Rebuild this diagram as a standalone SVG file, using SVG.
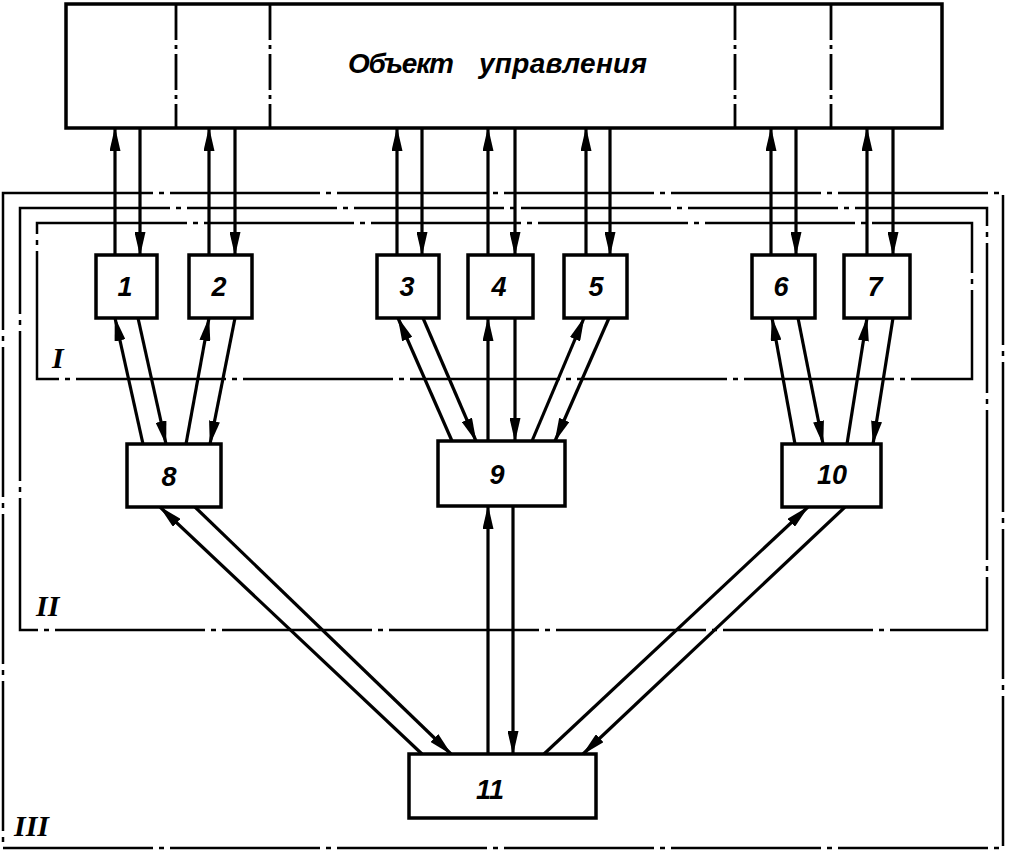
<svg xmlns="http://www.w3.org/2000/svg" width="1010" height="854" viewBox="0 0 1010 854">
<style>
.box{fill:#fff;stroke:#000;stroke-width:3.5}
.bound{fill:none;stroke:#000;stroke-width:2.5;stroke-dasharray:150 6 5 6}
.div{stroke:#000;stroke-width:2.8;stroke-dasharray:36 5 4 5}
.lbl{font-family:"Liberation Sans",Arial,sans-serif;font-style:italic;font-weight:bold;font-size:27px;fill:#000;text-anchor:middle}
.ttl{font-size:28px;text-anchor:start}
.rom{font-family:"Liberation Serif","Times New Roman",serif;font-style:italic;font-weight:bold;font-size:30px;fill:#000}
.c line{stroke:#000;stroke-width:3.2;marker-end:url(#ah)}
</style>
<defs>
<marker id="ah" markerUnits="userSpaceOnUse" markerWidth="24" markerHeight="11" refX="23" refY="5.5" orient="auto">
<path d="M0,0 L24,5.5 L0,11 Z" fill="#000"/>
</marker>
</defs>
<rect width="1010" height="854" fill="#fff"/>
<g id="boundaries">
<rect class="bound" x="3" y="193" width="1000" height="655"/>
<rect class="bound" x="20" y="208" width="967" height="422"/>
<rect class="bound" x="37" y="223" width="935" height="156"/>
<text class="rom" x="52" y="368">I</text>
<text class="rom" x="36" y="616">II</text>
<text class="rom" x="14" y="836">III</text>
</g>
<g id="object">
<rect class="box" x="66" y="4" width="876" height="124"/>
<line class="div" x1="176" y1="4" x2="176" y2="128"/>
<line class="div" x1="270" y1="4" x2="270" y2="128"/>
<line class="div" x1="735" y1="4" x2="735" y2="128"/>
<line class="div" x1="831" y1="4" x2="831" y2="128"/>
<text class="lbl ttl" x="348" y="73"><tspan textLength="106" lengthAdjust="spacing">Объект</tspan><tspan x="479" textLength="168" lengthAdjust="spacing">управления</tspan></text>
</g>
<g id="n1"><rect class="box" x="96" y="255" width="61" height="63"/><text class="lbl" x="125" y="296">1</text></g>
<g id="n2"><rect class="box" x="189" y="255" width="63" height="63"/><text class="lbl" x="219" y="296">2</text></g>
<g id="n3"><rect class="box" x="377" y="255" width="62" height="63"/><text class="lbl" x="407" y="296">3</text></g>
<g id="n4"><rect class="box" x="468" y="255" width="65" height="63"/><text class="lbl" x="499" y="296">4</text></g>
<g id="n5"><rect class="box" x="564" y="255" width="63" height="63"/><text class="lbl" x="596" y="296">5</text></g>
<g id="n6"><rect class="box" x="752" y="255" width="63" height="63"/><text class="lbl" x="781" y="296">6</text></g>
<g id="n7"><rect class="box" x="844" y="255" width="66" height="63"/><text class="lbl" x="875" y="296">7</text></g>
<g id="n8"><rect class="box" x="127" y="444" width="94" height="63"/><text class="lbl" x="169" y="486">8</text></g>
<g id="n9"><rect class="box" x="438" y="441" width="127" height="65"/><text class="lbl" x="497" y="484">9</text></g>
<g id="n10"><rect class="box" x="782" y="444" width="99" height="63"/><text class="lbl" x="832" y="484">10</text></g>
<g id="n11"><rect class="box" x="409" y="754" width="187" height="64"/><text class="lbl" x="490" y="799">11</text></g>
<g id="connectors" class="c">
<line x1="115" y1="255" x2="115" y2="128"/>
<line x1="140" y1="128" x2="140" y2="255"/>
<line x1="209" y1="255" x2="209" y2="128"/>
<line x1="235" y1="128" x2="235" y2="255"/>
<line x1="397" y1="255" x2="397" y2="128"/>
<line x1="422" y1="128" x2="422" y2="255"/>
<line x1="488" y1="255" x2="488" y2="128"/>
<line x1="515" y1="128" x2="515" y2="255"/>
<line x1="586" y1="255" x2="586" y2="128"/>
<line x1="610" y1="128" x2="610" y2="255"/>
<line x1="771" y1="255" x2="771" y2="128"/>
<line x1="796" y1="128" x2="796" y2="255"/>
<line x1="867" y1="255" x2="867" y2="128"/>
<line x1="893" y1="128" x2="893" y2="255"/>
<line x1="143" y1="444" x2="115" y2="318"/>
<line x1="138" y1="318" x2="166" y2="444"/>
<line x1="186" y1="444" x2="209" y2="318"/>
<line x1="235" y1="318" x2="210" y2="444"/>
<line x1="452" y1="441" x2="398" y2="318"/>
<line x1="423" y1="318" x2="476" y2="441"/>
<line x1="488" y1="441" x2="488" y2="318"/>
<line x1="515" y1="318" x2="515" y2="441"/>
<line x1="532" y1="441" x2="584" y2="318"/>
<line x1="609" y1="318" x2="555" y2="441"/>
<line x1="795" y1="444" x2="772" y2="318"/>
<line x1="798" y1="318" x2="823" y2="444"/>
<line x1="847" y1="444" x2="867" y2="318"/>
<line x1="893" y1="318" x2="873" y2="444"/>
<line x1="422" y1="754" x2="160" y2="507"/>
<line x1="195" y1="507" x2="451" y2="754"/>
<line x1="488" y1="754" x2="488" y2="506"/>
<line x1="513" y1="506" x2="513" y2="754"/>
<line x1="544" y1="754" x2="808" y2="507"/>
<line x1="845" y1="507" x2="583" y2="754"/>
</g>
</svg>
